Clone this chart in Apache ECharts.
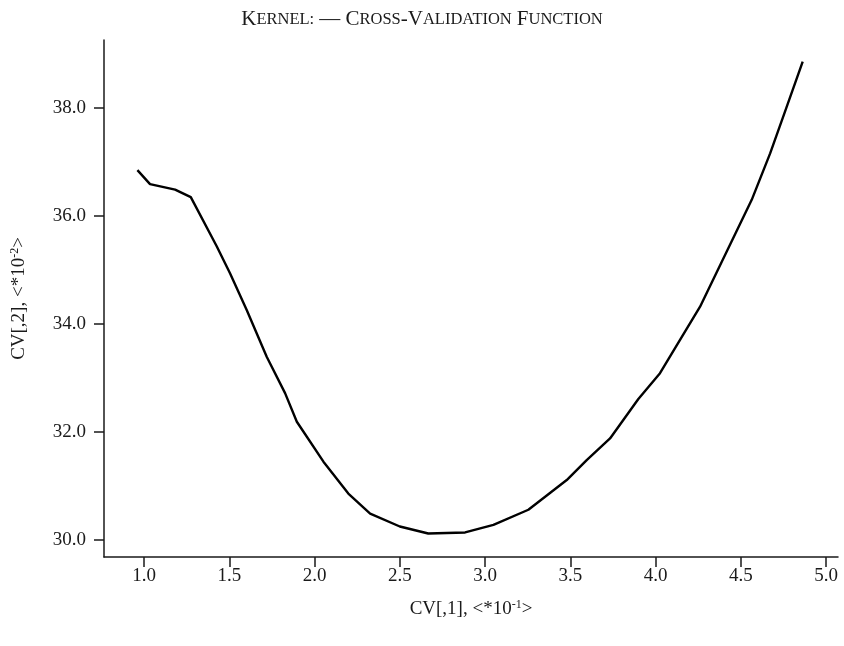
<!DOCTYPE html>
<html>
<head>
<meta charset="utf-8">
<script src="https://cdn.jsdelivr.net/npm/echarts@6/dist/echarts.min.js"></script>
<style>html,body{margin:0;padding:0;background:#fff;}#c{width:844px;height:646px;}</style>
</head>
<body>
<div id="c"></div>
<script>
// Data
var bandwidth = [0.961, 1.035, 1.182, 1.274, 1.426, 1.504, 1.602, 1.720, 1.827, 1.896, 2.052, 2.198, 2.326, 2.500, 2.667, 2.883, 3.049, 3.254, 3.479, 3.596, 3.733, 3.899, 4.026, 4.261, 4.564, 4.672, 4.769, 4.863];
var cvValue = [36.85, 36.59, 36.49, 36.35, 35.44, 34.94, 34.26, 33.39, 32.72, 32.19, 31.45, 30.86, 30.49, 30.25, 30.12, 30.14, 30.28, 30.56, 31.11, 31.48, 31.88, 32.61, 33.09, 34.32, 36.30, 37.16, 38.02, 38.86];
var xTicks = [1.0, 1.5, 2.0, 2.5, 3.0, 3.5, 4.0, 4.5, 5.0];
var yTicks = [30.0, 32.0, 34.0, 36.0, 38.0];

var serif = '"Liberation Serif", "DejaVu Serif", serif';
var ink = '#1a1a1a';
var pts = bandwidth.map(function (x, i) { return [x, cvValue[i]]; });

var nameRich = {
  n: { fontFamily: serif, fontSize: 19, color: ink, fontWeight: 'normal' },
  sup: { fontFamily: serif, fontSize: 12, color: ink, fontWeight: 'normal', verticalAlign: 'top', padding: [0, 0, 9, 0] }
};

var chart = echarts.init(document.getElementById('c'));
chart.setOption({
  backgroundColor: '#fff',
  animation: false,
  title: {
    text: '{b|K}{s|ERNEL:} {b|— C}{s|ROSS}{b|-V}{s|ALIDATION} {b|F}{s|UNCTION}',
    left: 'center',
    top: 4,
    textStyle: {
      fontWeight: 'normal',
      rich: {
        b: { fontFamily: serif, fontSize: 21, color: ink, fontWeight: 'normal' },
        s: { fontFamily: serif, fontSize: 16.5, color: ink, fontWeight: 'normal' }
      }
    }
  },
  grid: { left: 104, right: 6, top: 40, bottom: 89, outerBoundsMode: 'none', containLabel: false },
  xAxis: {
    type: 'value',
    min: 0.765,
    max: 5.07,
    name: '{n|CV[,1], <*10}{sup|-1}{n|>}',
    nameLocation: 'middle',
    nameGap: 42,
    nameTextStyle: { rich: nameRich },
    axisLine: { show: true, onZero: false, lineStyle: { color: ink, width: 1.5 } },
    axisTick: { show: true, length: 10, customValues: xTicks, lineStyle: { color: ink, width: 1.5 } },
    axisLabel: { customValues: xTicks, margin: 10, fontFamily: serif, fontSize: 19, color: ink, formatter: function (v) { return v.toFixed(1); } },
    splitLine: { show: false }
  },
  yAxis: {
    type: 'value',
    min: 29.685,
    max: 39.26,
    name: '{n|CV[,2], <*10}{sup|-2}{n|>}',
    nameLocation: 'middle',
    nameGap: 74,
    nameRotate: 90,
    nameTextStyle: { rich: nameRich },
    axisLine: { show: true, onZero: false, lineStyle: { color: ink, width: 1.5 } },
    axisTick: { show: true, length: 10, customValues: yTicks, lineStyle: { color: ink, width: 1.5 } },
    axisLabel: { customValues: yTicks, margin: 18, fontFamily: serif, fontSize: 19, color: ink, formatter: function (v) { return v.toFixed(1); } },
    splitLine: { show: false }
  },
  series: [{
    type: 'line',
    data: pts,
    showSymbol: false,
    symbol: 'none',
    lineStyle: { color: '#000', width: 2.4 },
    silent: true
  }]
});
</script>
</body>
</html>
